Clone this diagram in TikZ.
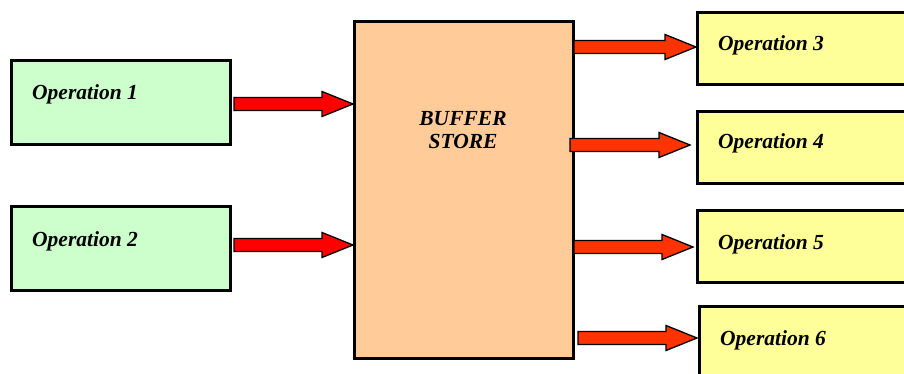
\documentclass[tikz,border=0pt]{standalone}
\usepackage{fontspec}
\setmainfont{Liberation Serif}
\usetikzlibrary{calc}
\definecolor{opgreen}{HTML}{CCFFCC}
\definecolor{opyellow}{HTML}{FFFF99}
\definecolor{bufcol}{HTML}{FFCC99}
\definecolor{arrred}{HTML}{FF0000}
\definecolor{arrorange}{HTML}{FF3300}
\tikzset{
  box/.style={draw=black, line width=2.6pt, rectangle, inner sep=0pt},
  lbl/.style={font=\fontsize{21.5}{23}\selectfont\bfseries\itshape, inner sep=0pt, anchor=base west},
  fatarrow/.style={draw=black, line width=1.3pt, line join=miter}
}
\newcommand\fatarrow[3]{%
  \draw[fatarrow, fill=#3] ($(#1)+(0,-6.5)$) -- ($(#2)+(-31,-6.5)$) -- ($(#2)+(-31,-12.5)$) -- (#2)
    -- ($(#2)+(-31,12.5)$) -- ($(#2)+(-31,6.5)$) -- ($(#1)+(0,6.5)$) -- cycle;}
\begin{document}
\begin{tikzpicture}[x=1pt,y=-1pt]
\useasboundingbox (0,0) rectangle (904,374);
\fill[white] (0,0) rectangle (904,374);
% boxes
\node[box, fill=opgreen, minimum width=219pt, minimum height=84pt, anchor=north west] (op1) at (10,59) {};
\node[box, fill=opgreen, minimum width=219pt, minimum height=84pt, anchor=north west] (op2) at (10,205) {};
\node[box, fill=bufcol, minimum width=219pt, minimum height=337pt, anchor=north west] (buf) at (353,20) {};
\node[box, fill=opyellow, minimum width=230pt, minimum height=72pt, anchor=north west] (op3) at (696,11) {};
\node[box, fill=opyellow, minimum width=230pt, minimum height=72pt, anchor=north west] (op4) at (696,110) {};
\node[box, fill=opyellow, minimum width=230pt, minimum height=72pt, anchor=north west] (op5) at (696,209) {};
\node[box, fill=opyellow, minimum width=230pt, minimum height=80pt, anchor=north west] (op6) at (698,305) {};
% labels
\node[lbl] (t1) at (32,100) {Operation 1};
\node[lbl] (t2) at (32,246) {Operation 2};
\node[lbl] (t3) at (718,51) {Operation 3};
\node[lbl] (t4) at (718,149) {Operation 4};
\node[lbl] (t5) at (718,249) {Operation 5};
\node[lbl] (t6) at (720,345) {Operation 6};
\node[font=\fontsize{21.5}{23}\selectfont\bfseries\itshape, align=center, inner sep=0pt, anchor=base] (tb) at (463,149) {BUFFER\\STORE};
% arrows
\coordinate (a1s) at (234,104); \coordinate (a1e) at (buf.west |- a1s);
\coordinate (a2s) at (234,245); \coordinate (a2e) at (buf.west |- a2s);
\coordinate (a3s) at (574,47);  \coordinate (a3e) at (op3.west |- a3s);
\coordinate (a4s) at (570,145); \coordinate (a4e) at ($(op4.west |- a4s)+(-6,0)$);
\coordinate (a5s) at (574,247); \coordinate (a5e) at ($(op5.west |- a5s)+(-3,0)$);
\coordinate (a6s) at (578,338); \coordinate (a6e) at ($(op6.west |- a6s)+(-1,0)$);
\fatarrow{a1s}{a1e}{arrred}
\fatarrow{a2s}{a2e}{arrred}
\fatarrow{a3s}{a3e}{arrorange}
\fatarrow{a4s}{a4e}{arrorange}
\fatarrow{a5s}{a5e}{arrorange}
\fatarrow{a6s}{a6e}{arrorange}
\end{tikzpicture}
\end{document}
